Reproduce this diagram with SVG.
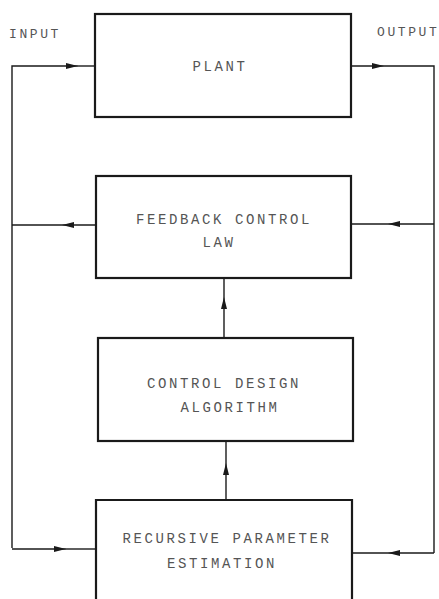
<svg xmlns="http://www.w3.org/2000/svg" width="439" height="599" viewBox="0 0 439 599">
<defs>
<style>
.box{fill:#fff;stroke:#1a1a1a;stroke-width:2.2}
.ln{fill:none;stroke:#1a1a1a;stroke-width:1.4}
.t{font-family:"Liberation Mono","DejaVu Sans Mono",monospace;font-size:14px;fill:#555;letter-spacing:2.6px;text-anchor:middle}
.lbl{font-family:"Liberation Mono","DejaVu Sans Mono",monospace;font-size:13px;fill:#555;letter-spacing:2.6px}
</style>
<marker id="ah" viewBox="0 0 12 6" refX="12" refY="3" markerWidth="12" markerHeight="6" markerUnits="userSpaceOnUse" orient="auto">
<path d="M0,0 L12,3 L0,6 Z" fill="#1a1a1a"/>
</marker>
</defs>
<rect width="439" height="599" fill="#fff"/>
<g id="connectors">
<path class="ln" d="M12,548 L12,66 L78,66" marker-end="url(#ah)"/>
<path class="ln" d="M78,66 L95,66"/>
<path class="ln" d="M351,66 L384,66" marker-end="url(#ah)"/>
<path class="ln" d="M384,66 L434,66 L434,553"/>
<path class="ln" d="M96,225 L62,225" marker-end="url(#ah)"/>
<path class="ln" d="M62,225 L12,225"/>
<path class="ln" d="M434,224 L388,224" marker-end="url(#ah)"/>
<path class="ln" d="M388,224 L351,224"/>
<path class="ln" d="M224,338 L224,297" marker-end="url(#ah)"/>
<path class="ln" d="M224,297 L224,278"/>
<path class="ln" d="M226,500 L226,463" marker-end="url(#ah)"/>
<path class="ln" d="M226,463 L226,441"/>
<path class="ln" d="M12,549 L66,549" marker-end="url(#ah)"/>
<path class="ln" d="M66,549 L96,549"/>
<path class="ln" d="M434,553 L388,553" marker-end="url(#ah)"/>
<path class="ln" d="M388,553 L352,553"/>
</g>
<text class="lbl" x="9" y="38">INPUT</text>
<text class="lbl" x="377" y="36">OUTPUT</text>
<g id="plant">
<rect class="box" x="95" y="14" width="256" height="103"/>
<text class="t" x="220" y="71">PLANT</text>
</g>
<g id="feedback">
<rect class="box" x="96" y="176" width="255" height="102"/>
<text class="t" x="224" y="224">FEEDBACK CONTROL</text>
<text class="t" x="219" y="247">LAW</text>
</g>
<g id="design">
<rect class="box" x="98" y="338" width="255" height="103"/>
<text class="t" x="224" y="388">CONTROL DESIGN</text>
<text class="t" x="230" y="412">ALGORITHM</text>
</g>
<g id="estimation">
<path class="box" d="M96,605 L96,500 L352,500 L352,605"/>
<text class="t" x="227" y="543">RECURSIVE PARAMETER</text>
<text class="t" x="222" y="568">ESTIMATION</text>
</g>
</svg>
